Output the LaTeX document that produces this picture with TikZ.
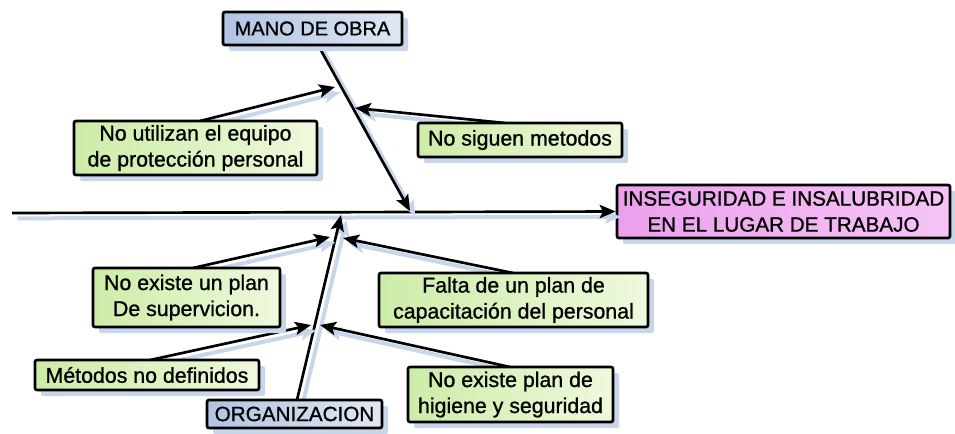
\documentclass[tikz,border=0pt]{standalone}
\usepackage{fontspec}
\setmainfont{Liberation Sans}
\newfontfamily\heavy{Liberation Sans}[FakeBold=1.0]
\usetikzlibrary{arrows.meta,shadows,calc}
\definecolor{shadowc}{RGB}{200,214,236}
\definecolor{gleft}{RGB}{205,236,168}
\definecolor{gright}{RGB}{238,249,220}
\definecolor{bleft}{RGB}{176,196,226}
\definecolor{bright}{RGB}{224,231,243}
\definecolor{pleft}{RGB}{236,160,236}
\definecolor{pright}{RGB}{246,196,246}
\tikzset{
  box/.style 2 args={draw=black, line width=2pt, rounded corners=1.5pt, align=center,
    inner sep=0pt, minimum width=#1*0.75pt, minimum height=#2*0.75pt,
    font=\heavy\fontsize{16}{19.5}\selectfont,
    drop shadow={shadow xshift=4.5pt, shadow yshift=-4.5pt, fill=shadowc, opacity=1, draw=none}},
  causebox/.style={left color=gleft, right color=gright},
  catbox/.style={left color=bleft, right color=bright},
  effbox/.style={left color=pleft, right color=pright},
  conn/.style={line width=2pt, -{Stealth[length=12pt,width=10pt,inset=2.5pt]},
    preaction={draw=shadowc, line width=3pt, -{Stealth[length=12pt,width=10pt,inset=2.5pt]},
      transform canvas={shift={(4pt,-4pt)}}}}
}
\begin{document}
\begin{tikzpicture}[x=0.75pt,y=-0.75pt]
\useasboundingbox (0,0) rectangle (955,433);
% coordinates (arrow tips, free ends)
\coordinate (s0) at (12,213);
\coordinate (tU) at (410,211);
\coordinate (tL) at (341,215);
\coordinate (t1) at (335,87);
\coordinate (t2) at (355,108);
\coordinate (t3) at (330,237);
\coordinate (t4) at (343,238);
\coordinate (t5) at (311,325);
\coordinate (t6) at (320,325);
% effect box and connectors (boxes drawn over them)
\node[box={333}{53}, effbox, font=\heavy\fontsize{15.5}{19.5}\selectfont] (eff) at (783.5,211.5) {INSEGURIDAD E INSALUBRIDAD\\EN EL LUGAR DE TRABAJO};
\draw[conn] (s0) -- (eff.west);
\coordinate (m1) at (318,45);
\coordinate (o1) at (297,400);
\draw[conn] (m1) -- (tU);
\draw[conn] (o1) -- (tL);
\coordinate (c1) at (200,121);
\coordinate (c2) at (505,123);
\coordinate (c3) at (193,268);
\coordinate (c4) at (513,273);
\coordinate (c5) at (150,360);
\coordinate (c6) at (510,367);
\draw[conn] (c1) -- (t1);
\draw[conn] (c2) -- (t2);
\draw[conn] (c3) -- (t3);
\draw[conn] (c4) -- (t4);
\draw[conn] (c5) -- (t5);
\draw[conn] (c6) -- (t6);
% boxes
\node[box={179}{33}, catbox, font=\heavy\fontsize{15}{18}\selectfont] (mano) at (312.5,28.5) {MANO DE OBRA};
\node[box={175}{28}, catbox, font=\heavy\fontsize{15.5}{18}\selectfont] (org) at (294.5,414) {ORGANIZACION};
\node[box={243}{54}, causebox] (util) at (195.5,148) {No utilizan el equipo\\de protección personal};
\node[box={204}{34}, causebox] (sig) at (520,140) {No siguen metodos};
\node[box={187}{59}, causebox] (sup) at (186.5,297.5) {No existe un plan\\De supervicion.};
\node[box={269}{54}, causebox] (falta) at (513.5,300) {Falta de un plan de\\capacitación del personal};
\node[box={224}{30}, causebox] (met) at (147,375) {Métodos no definidos};
\node[box={205}{55}, causebox] (hig) at (510.5,394.5) {No existe plan de\\higiene y seguridad};
\end{tikzpicture}
\end{document}
